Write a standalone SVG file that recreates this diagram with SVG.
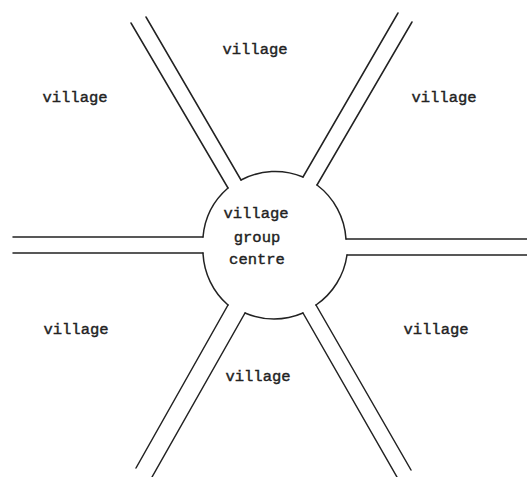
<svg xmlns="http://www.w3.org/2000/svg" width="527" height="477" viewBox="0 0 527 477">
<style>
.road{stroke:#222;stroke-width:1.5;fill:none;stroke-linecap:round}
.lbl{font-family:"Liberation Mono","Courier New",monospace;font-size:15.5px;fill:#222;stroke:#222;stroke-width:0.4;text-anchor:middle}
</style>
<rect width="527" height="477" fill="#fff"/>
<g id="connectors">
<line class="road" x1="131" y1="23" x2="228" y2="188"/>
<line class="road" x1="146" y1="17" x2="241" y2="180"/>
<line class="road" x1="398" y1="13" x2="303" y2="177"/>
<line class="road" x1="412" y1="22" x2="317" y2="185"/>
<line class="road" x1="13" y1="237" x2="203" y2="237"/>
<line class="road" x1="13" y1="253" x2="203" y2="253"/>
<line class="road" x1="346" y1="239" x2="527" y2="239"/>
<line class="road" x1="347" y1="255" x2="527" y2="255"/>
<line class="road" x1="228" y1="305" x2="136" y2="468"/>
<line class="road" x1="245" y1="313" x2="152" y2="477"/>
<line class="road" x1="303" y1="313" x2="397" y2="477"/>
<line class="road" x1="316" y1="305" x2="411" y2="470"/>
</g>
<g id="centre">
<path class="road" d="M241,180 A73,73 0 0 1 303,177 M317,185 A73,73 0 0 1 346,239 M347,255 A73,73 0 0 1 316,305 M303,313 A73,73 0 0 1 245,313 M228,305 A73,73 0 0 1 203,253 M203,237 A73,73 0 0 1 228,188"/>
<text class="lbl" x="256" y="218">village</text>
<text class="lbl" x="257" y="242">group</text>
<text class="lbl" x="257" y="264">centre</text>
</g>
<g id="village-top"><text class="lbl" x="255" y="54">village</text></g>
<g id="village-upper-left"><text class="lbl" x="75" y="102">village</text></g>
<g id="village-upper-right"><text class="lbl" x="444" y="102">village</text></g>
<g id="village-lower-left"><text class="lbl" x="76" y="334">village</text></g>
<g id="village-lower-right"><text class="lbl" x="436" y="334">village</text></g>
<g id="village-bottom"><text class="lbl" x="258" y="381">village</text></g>
</svg>
